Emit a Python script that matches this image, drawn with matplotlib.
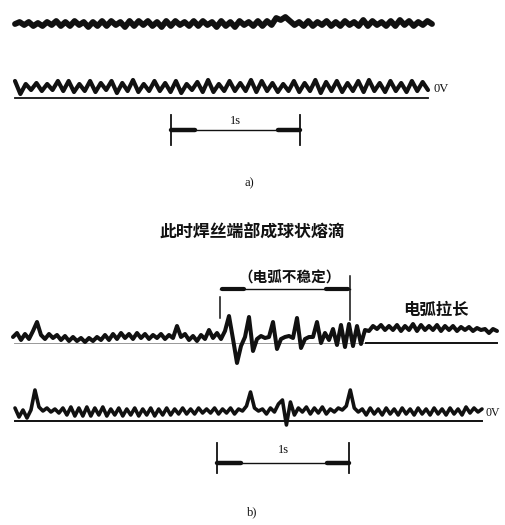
import numpy as np
import matplotlib
matplotlib.use("Agg")
import matplotlib.pyplot as plt

# ---- data: oscillograph traces (height above each trace's 0V line, arbitrary units) ----
a1 = [0, 2, -1, 2, -2, 1, -2, 2, -1, 3, -2, 2, -2, 3, -1, 2, -3, 2, -2, 3, -2, 3, -1, 2,
      -3, 3, -2, 3, -1, 3, -2, 2, -3, 3, -2, 3, -1, 2, -2, 3, -2, 3, -1, 2, -3, 3, -2, 2,
      -3, 3, -1, 2, -2, 3, -2, 3, -1, 6, 4, 7, 3, -1, 2, -2, 3, -2, 2, -1, 3, -2, 2, -2,
      3, -1, 2, -2, 4, -2, 3, -1, 2, -2, 3, -2, 4, -1, 3, -2, 2, -1, 3, 0]
a2 = [16, 3, 13, 7, 14, 6, 13, 7, 16, 6, 16, 5, 13, 6, 16, 5, 14, 7, 16, 4, 14, 6, 17, 5,
      13, 6, 16, 6, 14, 5, 16, 4, 13, 7, 15, 5, 17, 5, 13, 6, 16, 6, 14, 6, 17, 5, 16, 6,
      14, 5, 13, 6, 16, 5, 14, 6, 17, 4, 15, 6, 16, 5, 14, 6, 16, 5, 17, 6, 14, 5, 16, 6,
      14, 5, 16, 6, 15, 7]
b1 = [6, 10, 3, 9, 4, 12, 21, 8, 4, 9, 5, 8, 3, 7, 2, 6, 2, 5, 1, 5, 2, 6, 3, 8, 3, 9,
      4, 10, 5, 9, 4, 10, 5, 9, 4, 8, 5, 9, 4, 8, 5, 17, 6, 9, 3, 7, 2, 8, 4, 13, 5, 10,
      4, 12, 27, 4, -20, -3, 6, 26, -8, 4, 7, 5, 6, 21, -6, 4, 6, 7, 5, 25, -5, 4, 6, 6,
      21, 0, 10, 3, 14, -2, 18, -4, 19, -3, 17, -1, 13, 12, 17, 14, 18, 13, 17, 13, 18,
      12, 17, 13, 19, 12, 18, 13, 17, 13, 18, 12, 17, 13, 17, 12, 16, 13, 16, 12, 15, 13,
      14, 10, 14, 12]
b2 = [12, 3, 10, 2, 10, 30, 13, 9, 12, 8, 11, 7, 12, 5, 13, 4, 12, 4, 13, 4, 12, 5, 13,
      4, 11, 5, 12, 4, 11, 5, 12, 4, 11, 5, 12, 4, 11, 5, 12, 5, 11, 6, 12, 6, 11, 6, 12,
      7, 11, 7, 12, 6, 11, 7, 12, 6, 11, 9, 14, 28, 12, 9, 11, 6, 12, 8, 16, 20, -5, 18,
      5, 12, 8, 13, 6, 12, 7, 13, 6, 11, 8, 12, 10, 14, 30, 12, 8, 11, 5, 12, 6, 11, 5,
      12, 6, 11, 5, 12, 6, 11, 5, 12, 6, 11, 5, 12, 6, 11, 5, 12, 6, 11, 5, 13, 7, 12, 8, 11]

title_b = "此时焊丝端部成球状熔滴"
label_unstable = "（电弧不稳定）"
label_long = "电弧拉长"
label_0v = "0V"
label_1s = "1s"
panel_labels = ["a)", "b)"]

# ---- figure in pixel coordinates ----
W, H = 506, 525
fig = plt.figure(figsize=(W / 100, H / 100), dpi=100)
ax = fig.add_axes([0, 0, 1, 1])
ax.set_xlim(0, W)
ax.set_ylim(H, 0)
ax.axis("off")

CJK = ["Noto Sans CJK SC", "DejaVu Sans"]
SERIF = ["Liberation Serif", "DejaVu Serif"]
k = "#111111"


def trace(vals, x0, x1, base, lw, scale=1.0):
    x = np.linspace(x0, x1, len(vals))
    y = base - scale * np.asarray(vals, dtype=float)
    ax.plot(x, y, color=k, lw=lw, solid_joinstyle="round", solid_capstyle="round")
    return x, y


def scale_bar(x0, x1, yc, ytop, ybot, text, ty):
    ax.plot([x0, x0], [ytop, ybot], color=k, lw=1.3)
    ax.plot([x1, x1], [ytop, ybot], color=k, lw=1.3)
    ax.plot([x0, x1], [yc, yc], color=k, lw=1.0)
    ax.plot([x0, x0 + 24], [yc, yc], color=k, lw=3.2, solid_capstyle="round")
    ax.plot([x1 - 22, x1], [yc, yc], color=k, lw=3.2, solid_capstyle="round")
    ax.text((x0 + x1) / 2, ty, text, ha="center", va="center", fontsize=9,
            family=SERIF, color=k)


# ---- panel a ----
trace(a1, 15, 432, 24, 4.2)
trace(a2, 15, 428, 97, 3.0)
ax.plot([15, 428], [97.5, 97.5], color=k, lw=1.3)
ax.text(434, 89, label_0v, fontsize=9, family=SERIF, va="center", ha="left", color=k)
scale_bar(171, 300, 130, 115, 145, label_1s, 121)
ax.text(249, 183, panel_labels[0], fontsize=9, family=SERIF, ha="center", va="center",
        color=k)

# ---- panel b ----
ax.text(252, 233, title_b, fontsize=12.2, family=CJK, ha="center", va="center",
        fontweight="bold", color=k)
ax.text(290, 278, label_unstable, fontsize=10.5, family=CJK, ha="center", va="center",
        fontweight="bold", color=k)
ax.plot([220, 220], [297, 318], color=k, lw=1.1)
ax.plot([350, 350], [276, 320], color=k, lw=1.1)
ax.plot([220, 350], [289, 289], color=k, lw=1.0)
ax.plot([222, 244], [289, 289], color=k, lw=3.0, solid_capstyle="round")
ax.plot([326, 348], [289, 289], color=k, lw=3.0, solid_capstyle="round")
ax.text(436, 310, label_long, fontsize=11.8, family=CJK, ha="center", va="center",
        fontweight="bold", color=k)

trace(b1, 13, 497, 343, 2.9)
ax.plot([14, 366], [343, 343], color=k, lw=0.6, alpha=0.5)
ax.plot([366, 497], [343, 343], color=k, lw=1.4)

trace(b2, 15, 482, 420, 2.6)
ax.plot([15, 482], [420.5, 420.5], color=k, lw=1.4)
ax.text(486, 413, label_0v, fontsize=8.5, family=SERIF, va="center", ha="left", color=k)
scale_bar(217, 349, 463, 443, 473, label_1s, 450)
ax.text(252, 512, panel_labels[1], fontsize=9, family=SERIF, ha="center", va="center",
        color=k)

fig.savefig("out.png", dpi=100, facecolor="white")
